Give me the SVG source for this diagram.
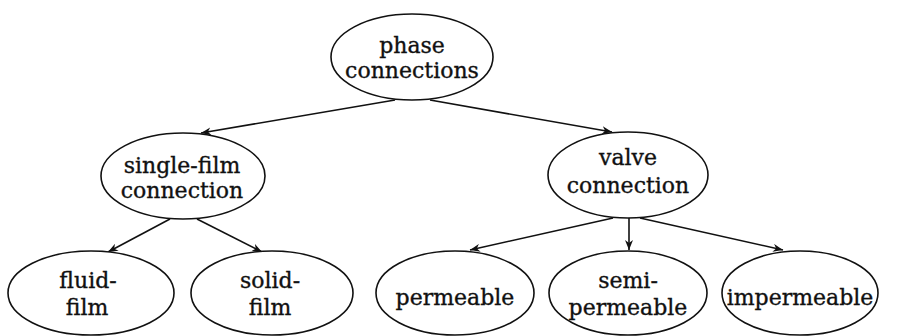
<svg xmlns="http://www.w3.org/2000/svg" width="904" height="336" viewBox="0 0 904 336">
  <style>
    .node ellipse { fill: #ffffff; stroke: #111111; stroke-width: 1.6; }
    .node text { font-family: "DejaVu Serif", "Liberation Serif", serif; font-size: 22px; fill: #111111; stroke: #111111; stroke-width: 0.35; text-anchor: middle; }
    .edge { stroke: #111111; stroke-width: 1.6; fill: none; marker-end: url(#arrow); }
  </style>
  <defs>
    <marker id="arrow" viewBox="0 0 10 8" refX="10" refY="4" markerWidth="10" markerHeight="8" markerUnits="userSpaceOnUse" orient="auto">
      <path d="M0,0 L10,4 L0,8 L3,4 Z" fill="#111111"/>
    </marker>
  </defs>

  <rect width="904" height="336" fill="#ffffff"/>

  <g id="connectors">
    <line class="edge" x1="395" y1="100" x2="201" y2="133"/>
    <line class="edge" x1="430" y1="100" x2="612" y2="132"/>
    <line class="edge" x1="170" y1="219" x2="108" y2="252"/>
    <line class="edge" x1="197" y1="219" x2="262" y2="252"/>
    <line class="edge" x1="613" y1="218" x2="470" y2="250"/>
    <line class="edge" x1="629" y1="218" x2="629" y2="250"/>
    <line class="edge" x1="640" y1="218" x2="783" y2="250"/>
  </g>

  <g id="phase-connections" class="node">
    <ellipse cx="412" cy="57" rx="81" ry="43"/>
    <text x="412" y="53">phase</text>
    <text x="412" y="78">connections</text>
  </g>

  <g id="single-film-connection" class="node">
    <ellipse cx="183" cy="176" rx="82" ry="43"/>
    <text x="182" y="173">single-film</text>
    <text x="182" y="198">connection</text>
  </g>

  <g id="valve-connection" class="node">
    <ellipse cx="628" cy="175" rx="80" ry="43"/>
    <text x="628" y="165">valve</text>
    <text x="628" y="193">connection</text>
  </g>

  <g id="fluid-film" class="node">
    <ellipse cx="91" cy="293" rx="83" ry="42"/>
    <text x="88" y="288">fluid-</text>
    <text x="87" y="315">film</text>
  </g>

  <g id="solid-film" class="node">
    <ellipse cx="272" cy="293" rx="81" ry="42"/>
    <text x="270" y="288">solid-</text>
    <text x="270" y="315">film</text>
  </g>

  <g id="permeable" class="node">
    <ellipse cx="455" cy="293" rx="79" ry="42"/>
    <text x="455" y="305">permeable</text>
  </g>

  <g id="semi-permeable" class="node">
    <ellipse cx="628" cy="293" rx="79" ry="42"/>
    <text x="628" y="288">semi-</text>
    <text x="628" y="315">permeable</text>
  </g>

  <g id="impermeable" class="node">
    <ellipse cx="800" cy="293" rx="78" ry="42"/>
    <text x="800" y="305">impermeable</text>
  </g>
</svg>
